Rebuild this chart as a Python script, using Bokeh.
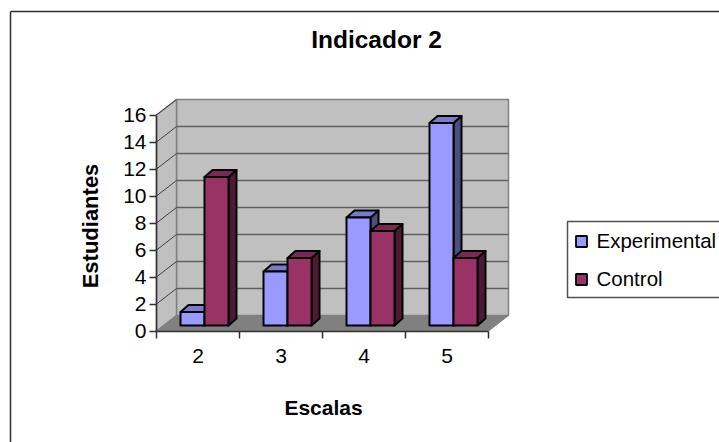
from bokeh.embed import file_html
from bokeh.models import FixedTicker, Label, LinearAxis, Range1d
from bokeh.plotting import figure
from bokeh.resources import INLINE

# Series values
categories = [2, 3, 4, 5]
experimental = [1, 4, 8, 15]
control = [11, 5, 7, 5]
y_ticks = [0, 2, 4, 6, 8, 10, 12, 14, 16]
series_names = ["Experimental", "Control"]

W, H = 719, 442
FONT = "Liberation Sans"

# Scale of the plot area, in pixels per data unit, and where the origin sits
X_UNIT, Y_UNIT = 83.0, 13.5
X0_PX, Y0_PX = 156.0, 330.5
X_START = 1.5  # left edge of the first category slot


def dx(px):
    return px / X_UNIT


def dy(px):
    return px / Y_UNIT


def X(px):
    return X_START + (px - X0_PX) / X_UNIT


def Y(px):
    return (Y0_PX - px) / Y_UNIT


p = figure(
    width=W, height=H, output_backend="svg", toolbar_location=None,
    min_border=0, outline_line_color=None, background_fill_color="white",
    border_fill_color="white",
    x_range=Range1d(X(0), X(W)), y_range=Range1d(Y(H), Y(0)),
    x_axis_type=None, y_axis_type=None,
)
p.xgrid.visible = False
p.ygrid.visible = False

# Chart border: open on the right and at the bottom
p.line([X(10), X(10)], [Y(H), Y(11)], line_color="#303030", line_width=1.5)
p.line([X(10), X(W)], [Y(11), Y(11)], line_color="#303030", line_width=1.5)

# 3D box: depth of the walls and of the bars, in pixels
WALL_DX, WALL_DY = 20.0, 15.5
BAR_DX, BAR_DY = 8.0, 7.0
BAR_OFF_DX, BAR_OFF_DY = 6.5, 5.5
BAR_W = 24.0 / X_UNIT
x_left, x_right = X_START, X_START + len(categories)
y_top = 16
wx, wy = dx(WALL_DX), dy(WALL_DY)
WALL_EDGE = "#808080"

# Back wall, side wall, floor
p.patch([x_left + wx, x_right + wx, x_right + wx, x_left + wx],
        [wy, wy, y_top + wy, y_top + wy],
        fill_color="#C0C0C0", line_color=WALL_EDGE, line_width=1.5)
p.patch([x_left, x_left + wx, x_left + wx, x_left],
        [0, wy, y_top + wy, y_top],
        fill_color="#C0C0C0", line_color=WALL_EDGE, line_width=1.5)
p.patch([x_left, x_right, x_right + wx, x_left + wx],
        [0, 0, wy, wy],
        fill_color="#808080", line_color=WALL_EDGE, line_width=1)

# Gridlines run along the side wall and across the back wall
for t in y_ticks[1:-1] + [y_top]:
    if t < y_top:
        p.line([x_left + wx, x_right + wx], [t + wy, t + wy],
               line_color="#606060", line_width=1.3)
    p.line([x_left, x_left + wx], [t, t + wy], line_color="#404040", line_width=1)


def bar(x0, value, front, top, side):
    """Front face, top face and side face of one bar."""
    ox, oy = dx(BAR_OFF_DX), dy(BAR_OFF_DY)
    bx, by = dx(BAR_DX), dy(BAR_DY)
    l, r = x0 + ox, x0 + ox + BAR_W
    b, t = oy, oy + value
    kw = dict(line_color="black", line_width=2, line_join="round")
    p.patch([r, r + bx, r + bx, r], [b, b + by, t + by, t], fill_color=side, **kw)
    p.patch([l, r, r + bx, l + bx], [t, t, t + by, t + by], fill_color=top, **kw)
    p.patch([l, r, r, l], [b, b, t, t], fill_color=front, **kw)


EXP = ("#9999FF", "#7A7ACC", "#4D4D80")
CTL = ("#993366", "#7A2952", "#4D1A33")
for c, e, k in zip(categories, experimental, control):
    bar(c - BAR_W, e, *EXP)
    bar(c, k, *CTL)

# Axes: x tick marks on the slot boundaries, x labels on the slot centres
y_axis = LinearAxis(
    ticker=FixedTicker(ticks=y_ticks), fixed_location=x_left, bounds=(0, 16),
    axis_line_color="#303030", axis_line_width=1.5,
    major_tick_line_color="#303030", major_tick_line_width=1.5,
    major_tick_in=0, major_tick_out=7, minor_tick_line_color=None,
    major_label_text_font=FONT, major_label_text_font_size="21px",
    major_label_text_color="black", major_label_standoff=3,
)
p.add_layout(y_axis, "left")
x_axis = LinearAxis(
    ticker=FixedTicker(ticks=categories, minor_ticks=[1.5, 2.5, 3.5, 4.5, 5.5]),
    fixed_location=0, bounds=(x_left, x_right),
    axis_line_color="#303030", axis_line_width=1.5,
    major_tick_line_color=None,
    minor_tick_line_color="#303030", minor_tick_line_width=1.5,
    minor_tick_in=0, minor_tick_out=7,
    major_label_text_font=FONT, major_label_text_font_size="21px",
    major_label_text_color="black", major_label_standoff=11,
)
p.add_layout(x_axis, "below")


def text(x, y, s, size, bold=False, angle=0, align="center", baseline="middle"):
    p.add_layout(Label(
        x=X(x), y=Y(y), text=s, text_font=FONT, text_font_size=f"{size}px",
        text_font_style="bold" if bold else "normal", text_color="black",
        text_align=align, text_baseline=baseline, angle=angle, angle_units="deg",
    ))


text(376, 39, "Indicador 2", 24.5, bold=True)
text(323, 407, "Escalas", 21, bold=True)
text(90, 225.5, "Estudiantes", 22, bold=True, angle=90)

# Legend
p.patch([X(730), X(567), X(567), X(730)], [Y(221), Y(221), Y(297), Y(297)],
        fill_color="white", line_color="#505050", line_width=1.5)
for (yy, name, fc) in zip((240, 278), series_names, (EXP[0], CTL[0])):
    p.scatter([X(581)], [Y(yy + 1)], marker="square", size=11, fill_color=fc,
              line_color="black", line_width=1.8)
    text(596, yy, name, 20.5, align="left")

open("out.html", "w").write(file_html(p, INLINE))
